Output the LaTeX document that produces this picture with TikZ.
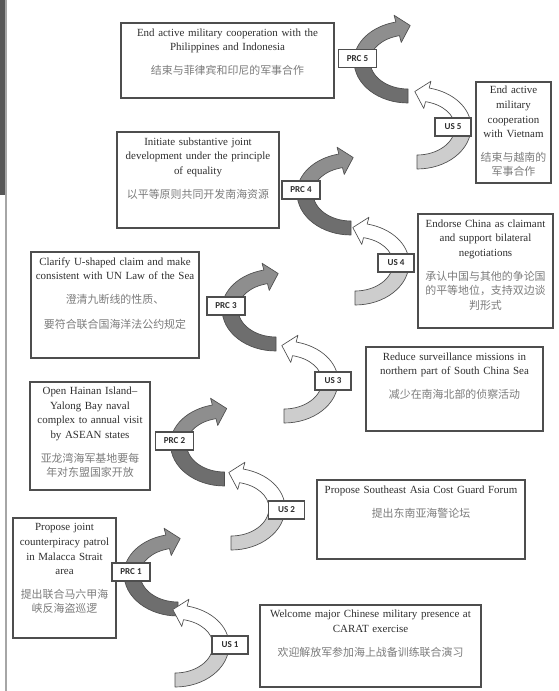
\documentclass[tikz,border=0pt]{standalone}
\usepackage{fontspec}
\setmainfont{Liberation Serif}
\newfontfamily\lblfont{Carlito}
\newfontfamily\cjkfont{Noto Sans CJK SC}
\usetikzlibrary{fit}
\definecolor{scline}{HTML}{4E4E4E}
\definecolor{sctext}{HTML}{2E2E2E}
\definecolor{sccjk}{HTML}{7C7C7C}
\definecolor{scdark}{HTML}{6E6E6E}
\definecolor{scmid}{HTML}{8E8E8E}
\definecolor{sclight}{HTML}{CDCDCD}
\definecolor{scstrip}{HTML}{575757}
\newcommand\zh[1]{{\cjkfont\color{sccjk}#1}}

\tikzset{
  turn/.pic={
    % lower half, flat end
    \filldraw[#1low] (-54,0) arc[start angle=180,end angle=90,x radius=54,y radius=42]
      -- (0,28) arc[start angle=90,end angle=180,x radius=38,y radius=28] -- cycle;
    % upper half with head
    \filldraw[#1up] (-54,0) arc[start angle=180,end angle=257,x radius=54,y radius=40]
      -- (-13.94,-45.74) -- (2.22,-35.47) -- (-6.76,-18.56) -- (-8.55,-25.33)
      arc[start angle=257,end angle=180,x radius=38,y radius=26] -- cycle;
  },
  prclow/.style={fill=scdark,draw=scline,line width=0.5pt,line join=round},
  prcup/.style={fill=scmid,draw=scline,line width=0.5pt,line join=round},
  uslow/.style={fill=sclight,draw=scline,line width=0.5pt,line join=round},
  usup/.style={fill=white,draw=scline,line width=0.5pt,line join=round},
  tag/.style={draw=scline,fill=white,line width=0.8pt,text=sctext,inner sep=1pt,
    font=\lblfont\bfseries\fontsize{6.8}{8}\selectfont,minimum height=13.5pt},
  prctag/.style={tag,minimum width=28.5pt},
  ustag/.style={tag,minimum width=27pt},
  box/.style={draw=scline,fill=white,line width=0.8pt,inner sep=0pt},
  txt/.style={anchor=north,align=center,inner sep=0pt,text=sctext,
    font=\fontsize{8.2}{10.9}\selectfont}
}

\begin{document}
\begin{tikzpicture}[x=0.75pt,y=-0.75pt]
  \useasboundingbox (0,0) rectangle (558,691);
  \fill[white] (0,0) rectangle (558,691);
  % page edge
  \fill[scstrip] (0,0) rectangle (5,195);
  \draw[gray!70,line width=1.1pt] (6,0) -- (6,691);

  % text boxes
  \node[box,fit={(121,23) (334,98)}] (prc5box) {};
  \node[txt,text width=150pt] (prc5txt) at ([yshift=-4.5pt]prc5box.north)
    {End active military cooperation with the\\Philippines and Indonesia\\[7pt]\zh{结束与菲律宾和印尼的军事合作}};
  \node[box,fit={(476,82) (551,183)}] (us5box) {};
  \node[txt,text width=54pt] (us5txt) at ([yshift=-3.5pt]us5box.north)
    {End active\\military\\cooperation\\with Vietnam\\[7pt]\zh{结束与越南的}\\\zh{军事合作}};
  \node[box,fit={(117,132) (279,228)}] (prc4box) {};
  \node[txt,text width=116pt] (prc4txt) at ([yshift=-4.5pt]prc4box.north)
    {Initiate substantive joint\\development under the principle\\of equality\\[7pt]\zh{以平等原则共同开发南海资源}};
  \node[box,fit={(418,214) (553,328)}] (us4box) {};
  \node[txt,text width=96pt] (us4txt) at ([yshift=-4.5pt]us4box.north)
    {Endorse China as claimant\\and support bilateral\\negotiations\\[7pt]\zh{承认中国与其他的争论国}\\\zh{的平等地位，支持双边谈}\\\zh{判形式}};
  \node[box,fit={(31,252) (199,358)}] (prc3box) {};
  \node[txt,text width=120pt] (prc3txt) at ([yshift=-4.5pt]prc3box.north)
    {Clarify U-shaped claim and make\\consistent with UN Law of the Sea\\[7pt]\zh{澄清九断线的性质、}\\[7.5pt]\zh{要符合联合国海洋法公约规定}};
  \node[box,fit={(366,347) (543,431)}] (us3box) {};
  \node[txt,text width=128pt] (us3txt) at ([yshift=-4.5pt]us3box.north)
    {Reduce surveillance missions in\\northern part of South China Sea\\[7pt]\zh{减少在南海北部的侦察活动}};
  \node[box,fit={(30,382) (150,490)}] (prc2box) {};
  \node[txt,text width=86pt] (prc2txt) at ([yshift=-4pt]prc2box.north)
    {Open Hainan Island--\\Yalong Bay naval\\complex to annual visit\\by ASEAN states\\[7pt]\zh{亚龙湾海军基地要每}\\\zh{年对东盟国家开放}};
  \node[box,fit={(317,480) (525,559)}] (us2box) {};
  \node[txt,text width=150pt] (us2txt) at ([yshift=-5pt]us2box.north)
    {Propose Southeast Asia Cost Guard Forum\\[7pt]\zh{提出东南亚海警论坛}};
  \node[box,fit={(13,518) (116,638)}] (prc1box) {};
  \node[txt,text width=74pt] (prc1txt) at ([yshift=-4.5pt]prc1box.north)
    {Propose joint\\counterpiracy patrol\\in Malacca Strait\\area\\[7pt]\zh{提出联合马六甲海}\\\zh{峡反海盗巡逻}};
  \node[box,fit={(260,605) (481,687)}] (us1box) {};
  \node[txt,text width=160pt] (us1txt) at ([yshift=-4pt]us1box.north)
    {Welcome major Chinese military presence at\\CARAT exercise\\[7pt]\zh{欢迎解放军参加海上战备训练联合演习}};

  % turning arrows
  \pic at (408,61) {turn=prc};
  \pic at (351,193) {turn=prc};
  \pic at (276,309) {turn=prc};
  \pic at (224.5,444) {turn=prc};
  \pic at (178,574) {turn=prc};
  \pic[xscale=-1] at (417,127) {turn=us};
  \pic[xscale=-1] at (355,263) {turn=us};
  \pic[xscale=-1] at (284,381) {turn=us};
  \pic[xscale=-1] at (231,508) {turn=us};
  \pic[xscale=-1] at (175,645) {turn=us};

  % tags
  \node[prctag] (prc5) at (357.5,58.5) {PRC 5};
  \node[prctag] (prc4) at (301,190) {PRC 4};
  \node[prctag] (prc3) at (226,306) {PRC 3};
  \node[prctag] (prc2) at (174.5,441) {PRC 2};
  \node[prctag] (prc1) at (131,572) {PRC 1};
  \node[ustag] (us5) at (453,127) {US 5};
  \node[ustag] (us4) at (396,263) {US 4};
  \node[ustag] (us3) at (333,381) {US 3};
  \node[ustag] (us2) at (286.5,510) {US 2};
  \node[ustag] (us1) at (230,645) {US 1};
\end{tikzpicture}
\end{document}
